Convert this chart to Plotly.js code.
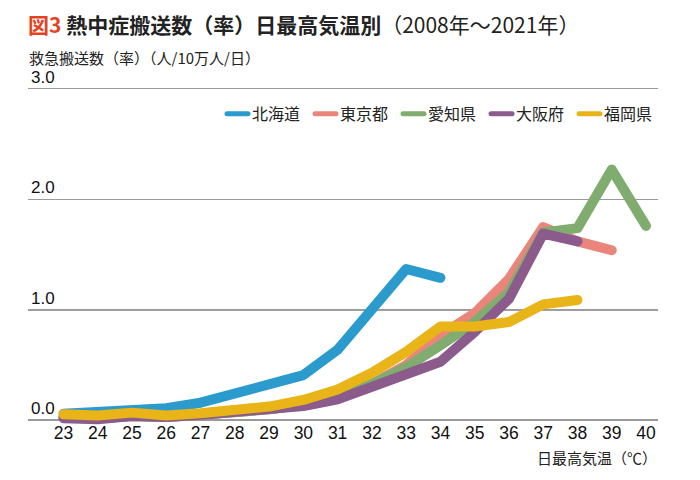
<!DOCTYPE html>
<html>
<head>
<meta charset="utf-8">
<script src="https://cdn.plot.ly/plotly-3.0.1.min.js"></script>
<style>
  html, body { margin: 0; padding: 0; background: #fff; }
  #chart { width: 700px; height: 480px; }
  .scatterlayer path.js-line, .legend path.js-line { stroke-linecap: round; stroke-linejoin: round; }
</style>
</head>
<body>
<div id="chart"></div>
<script>
// ---- data ----
const temps = [23, 24, 25, 26, 27, 28, 29, 30, 31, 32, 33, 34, 35, 36, 37, 38, 39, 40];
const seriesNames = ["北海道", "東京都", "愛知県", "大阪府", "福岡県"];
const hokkaido = [0.06, 0.07, 0.09, 0.11, 0.16, 0.24, 0.33, 0.41, 0.64, 0.99, 1.37, 1.29];
const tokyo    = [0.03, 0.02, 0.04, 0.03, 0.05, 0.07, 0.10, 0.14, 0.21, 0.33, 0.50, 0.77, 0.97, 1.28, 1.75, 1.62, 1.54];
const aichi    = [0.03, 0.02, 0.04, 0.03, 0.05, 0.07, 0.10, 0.14, 0.21, 0.33, 0.48, 0.68, 0.89, 1.16, 1.70, 1.74, 2.27, 1.76];
const osaka    = [0.02, 0.01, 0.04, 0.03, 0.05, 0.07, 0.09, 0.13, 0.19, 0.30, 0.41, 0.53, 0.80, 1.10, 1.69, 1.62];
const fukuoka  = [0.055, 0.045, 0.07, 0.045, 0.065, 0.095, 0.125, 0.185, 0.28, 0.43, 0.62, 0.85, 0.85, 0.89, 1.05, 1.09];
const yTickVals = [0, 1, 2, 3];
const yTickText = ["0.0", "1.0", "2.0", "3.0"];
const xTickText = temps.map(String);
const titleText = "図3";
const titleMain = "熱中症搬送数（率）日最高気温別";
const titleSub = "（2008年～2021年）";
const yTitle = "救急搬送数（率）（人/10万人/日）";
const xTitle = "日最高気温（℃）";

const colors = ["#2b9bcd", "#e9857b", "#80ad6f", "#8a5b8b", "#e8b418"];
const allSeries = [hokkaido, tokyo, aichi, osaka, fukuoka];

const traces = [];
allSeries.forEach((vals, i) => {
  traces.push({
    type: "scatter", mode: "lines",
    x: temps.slice(0, vals.length), y: vals,
    line: { color: colors[i], width: 10 },
    showlegend: false, hoverinfo: "skip"
  });
});
// legend entries (thinner swatches)
seriesNames.forEach((n, i) => {
  traces.push({
    type: "scatter", mode: "lines", name: n,
    x: [null], y: [null],
    line: { color: colors[i], width: 5 },
    showlegend: true
  });
});

const latin = "'Liberation Sans', Arial, 'Noto Sans CJK JP', sans-serif";
const cjk = "'Noto Sans CJK JP', sans-serif";

const T = 60, B = 52.7, H = 480 - T - B;
const layout = {
  width: 700, height: 480,
  margin: { l: 28, r: 42, t: T, b: B },
  paper_bgcolor: "#fff", plot_bgcolor: "#fff",
  showlegend: true,
  title: {
    text: "<b><span style='color:#e3441f'>" + titleText + "</span> " + titleMain + "</b>" + titleSub,
    font: { family: cjk, size: 21, color: "#222" },
    x: 28 / 700, xanchor: "left", xref: "container",
    y: 1 - 26 / 480, yanchor: "middle", yref: "container"
  },
  xaxis: {
    range: [21.964, 40.35],
    tickmode: "array", tickvals: temps, ticktext: xTickText,
    showgrid: false, zeroline: false, showline: false,
    ticks: "", ticklabelstandoff: -7,
    tickfont: { family: latin, size: 17.5, color: "#111" },
    fixedrange: true
  },
  yaxis: {
    range: [-0.06, 3.262],
    tickmode: "array", tickvals: yTickVals, ticktext: yTickText,
    ticklabelposition: "inside top",
    showgrid: true, gridcolor: "#9a9a9a", gridwidth: 1,
    zeroline: true, zerolinecolor: "#9a9a9a", zerolinewidth: 2,
    showline: false, ticks: "",
    tickfont: { family: latin, size: 17, color: "#111" },
    fixedrange: true
  },
  legend: {
    orientation: "h",
    x: 0.9905, xanchor: "right", xref: "paper",
    y: (480 - B - 114) / H, yanchor: "middle",
    font: { family: cjk, size: 16, color: "#222" },
    itemwidth: 30, entrywidth: 43, entrywidthmode: "pixels",
    bgcolor: "rgba(0,0,0,0)", borderwidth: 0,
    traceorder: "normal"
  },
  shapes: [{
    type: "line", xref: "paper", x0: 0, x1: 1, yref: "y", y0: yTickVals[1], y1: yTickVals[1],
    line: { color: "#444", width: 1.2 }, layer: "below"
  }],
  annotations: [
    { text: yTitle, xref: "paper", x: 0, xanchor: "left", yref: "paper", y: (480 - B - 57.5) / H, yanchor: "middle",
      showarrow: false, borderpad: 0, font: { family: cjk, size: 15, color: "#222" } },
    { text: xTitle, xref: "paper", x: 1, xanchor: "right", yref: "paper", y: (480 - B - 458) / H, yanchor: "middle",
      showarrow: false, borderpad: 0, font: { family: cjk, size: 15, color: "#222" } }
  ]
};

Plotly.newPlot("chart", traces, layout, { staticPlot: true, displayModeBar: false }).then(() => {
  // shorten legend swatches to match the reference
  document.querySelectorAll(".legend path.js-line").forEach(p => p.setAttribute("d", "M15,0h21"));
});
</script>
</body>
</html>
